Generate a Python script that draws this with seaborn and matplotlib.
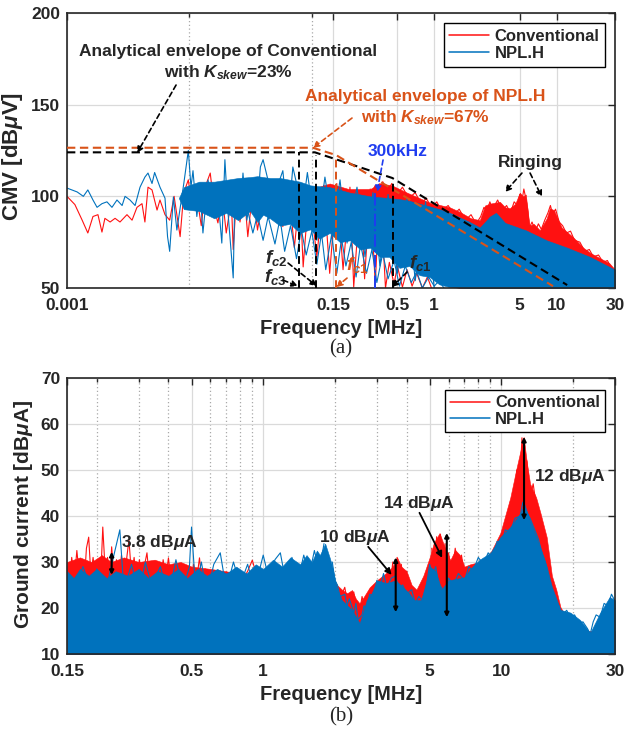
import pandas as pd
import seaborn as sns
import matplotlib.pyplot as plt
from matplotlib.lines import Line2D
from matplotlib.ticker import NullFormatter

# ---------------- (a) CMV spectrum ----------------
# (frequency MHz, dB uV) for the thin traces / spikes
cmv_conv_trace = [
    (0.001, 100), (0.00116, 95.5), (0.00133, 87), (0.00148, 80), (0.00163, 89),
    (0.00179, 90), (0.00193, 80.5), (0.00204, 88), (0.00225, 86), (0.00247, 88),
    (0.00271, 86), (0.00309, 90), (0.0034, 87), (0.00373, 94), (0.0041, 96),
    (0.00433, 86), (0.00459, 105), (0.00495, 103.5), (0.00544, 92.5), (0.00575, 98),
    (0.00632, 90), (0.0069, 87), (0.0075, 100), (0.0084, 78), (0.0090, 102),
    (0.0098, 109), (0.0105, 94), (0.0115, 100), (0.0125, 84), (0.0136, 106),
    (0.0148, 112.7), (0.0160, 93), (0.0171, 85.5), (0.0185, 101), (0.0200, 80),
    (0.0220, 98), (0.0228, 71), (0.0245, 105), (0.0259, 86), (0.0280, 103),
    (0.0300, 78), (0.0330, 104), (0.0360, 81.6), (0.040, 100), (0.045, 88),
    (0.050, 106), (0.058, 83.5), (0.065, 103), (0.072, 72), (0.080, 102),
    (0.085, 61.5), (0.095, 104), (0.110, 67), (0.125, 106), (0.140, 58),
    (0.160, 107), (0.18, 60), (0.205, 105), (0.22, 50.5), (0.25, 103),
    (0.27, 55), (0.30, 104), (0.33, 52), (0.36, 107), (0.40, 50),
    (0.43, 64), (0.47, 52), (0.5, 62), (0.55, 50.5), (0.6, 60), (0.66, 51),
    (0.72, 58), (0.8, 50), (0.88, 56), (0.95, 50),
]
cmv_conv_ringing = [
    (0.30, 100), (0.33, 106), (0.35, 101), (0.38, 108), (0.41, 102), (0.45, 107),
    (0.5, 101), (0.55, 105), (0.62, 99), (0.7, 102), (0.78, 96), (0.86, 99),
    (0.95, 94), (1.05, 97), (1.15, 92), (1.3, 95), (1.45, 90), (1.6, 93),
    (1.8, 87), (2.0, 90), (2.2, 85), (2.4, 89), (2.55, 94), (2.7, 92),
    (2.85, 97), (3.0, 93), (3.3, 98), (3.6, 92), (3.9, 95), (4.2, 91),
    (4.5, 97), (4.8, 95), (5.0, 101), (5.2, 97), (5.4, 104), (5.6, 99),
    (5.8, 93), (6.0, 83), (6.3, 86), (6.7, 81), (7.1, 85), (7.5, 82),
    (8.0, 87), (8.5, 91), (8.9, 95), (9.3, 90), (9.8, 93), (10.5, 86),
    (11.2, 84), (12, 80), (13, 81), (14, 76), (15.5, 75), (17, 70),
    (18.5, 71), (20, 67), (22, 68), (24, 64), (26, 65), (28, 61), (30, 59),
]
cmv_nplh_trace = [
    (0.001, 104.5), (0.00121, 102.4), (0.00136, 100), (0.00148, 103.5), (0.00163, 98),
    (0.00176, 94), (0.00193, 96), (0.00212, 97), (0.00233, 94), (0.00256, 98),
    (0.00282, 95), (0.00298, 100), (0.00327, 98), (0.0036, 95), (0.00395, 105),
    (0.00433, 110.5), (0.00459, 112.7), (0.00495, 107), (0.0052, 113), (0.00575, 105),
    (0.00632, 99), (0.00663, 78), (0.0069, 70), (0.0074, 99.6), (0.0079, 81.6),
    (0.0090, 107), (0.0098, 125), (0.0103, 105), (0.0107, 114), (0.0115, 89),
    (0.0122, 103.5), (0.0129, 80), (0.0142, 109), (0.0156, 89), (0.0171, 99.6),
    (0.0184, 74.5), (0.0195, 120), (0.0206, 92.5), (0.0228, 55.5), (0.0236, 105),
    (0.0259, 89), (0.0274, 112.7), (0.0295, 87), (0.0324, 107), (0.0356, 91),
    (0.038, 116), (0.040, 120), (0.048, 98), (0.058, 114), (0.064, 85),
    (0.070, 116), (0.084, 92.5), (0.092, 113), (0.110, 76), (0.128, 110.5),
    (0.149, 83), (0.170, 109), (0.194, 74.5), (0.234, 105), (0.272, 67),
    (0.316, 102), (0.36, 62), (0.42, 101), (0.5, 58), (0.6, 99),
    (0.7, 54), (0.85, 97), (1.0, 50),
]
cmv_nplh_low_spikes = [
    (0.03, 92), (0.033, 80), (0.036, 90), (0.04, 76), (0.044, 89), (0.05, 74),
    (0.055, 88), (0.06, 70), (0.067, 84), (0.075, 66), (0.082, 82), (0.09, 68),
    (0.1, 81), (0.11, 63), (0.12, 80), (0.13, 60), (0.145, 79), (0.16, 58),
    (0.175, 77), (0.19, 62), (0.21, 75), (0.23, 56), (0.25, 74), (0.28, 58),
    (0.31, 71), (0.34, 53), (0.38, 69), (0.42, 55), (0.47, 65), (0.52, 51),
    (0.58, 62), (0.65, 53), (0.72, 59), (0.8, 50), (0.9, 56), (1.0, 51),
    (1.1, 54), (1.2, 50),
]
# dense part of the spectra: (frequency MHz, lower dB, upper dB)
cmv_conv_band = [
    (0.03, 94, 101), (0.05, 92, 103), (0.0664, 86, 104), (0.1, 84, 104), (0.14, 82, 107),
    (0.2, 78, 104), (0.3, 74, 104), (0.36, 72, 107), (0.45, 69, 106), (0.6, 63, 102),
    (0.76, 60, 99), (0.92, 57, 96.5), (1.0, 55, 96), (1.34, 51, 94), (1.62, 50, 91.5),
    (2.0, 50, 88), (2.36, 50, 87), (2.6, 50, 95), (2.85, 50, 96), (3.44, 50, 97),
    (3.8, 50, 94), (4.15, 50, 93.5), (4.6, 50, 96), (5.0, 50, 102), (5.3, 50, 100),
    (5.6, 50, 101), (6.0, 50, 84), (6.5, 50, 85), (7.3, 50, 81.5), (8.3, 50, 88),
    (8.8, 50, 93.5), (9.5, 50, 92.5), (11.0, 50, 83), (13.5, 50, 78), (16.5, 50, 72),
    (19.0, 50, 69), (23.0, 50, 66), (27.0, 50, 63.5), (30.0, 50, 60),
]
cmv_nplh_band = [
    (0.0082, 99, 99), (0.009, 93, 105), (0.012, 92, 108), (0.016, 88, 108), (0.02, 91, 109),
    (0.025, 87, 110), (0.0313, 92, 110.5), (0.036, 86, 111), (0.04, 90, 110.5),
    (0.0456, 88, 110), (0.055, 84, 110), (0.0664, 85, 109), (0.08, 80, 108), (0.097, 82, 106),
    (0.115, 77, 105.5), (0.14, 80, 105), (0.17, 75, 103.5), (0.205, 76, 102), (0.25, 71, 101),
    (0.3, 72, 100), (0.36, 67, 99.5), (0.43, 67, 99), (0.52, 61, 98.5), (0.63, 62, 97.5),
    (0.76, 57, 96), (0.92, 56, 94.5), (1.1, 52, 93), (1.34, 50.5, 91), (1.95, 50, 86),
    (2.36, 50, 83), (2.6, 50, 86), (2.85, 50, 89), (3.2, 50, 91), (3.8, 50, 85.5),
    (5.6, 50, 81.5), (8.3, 50, 76), (12.2, 50, 72), (18.7, 50, 67), (28, 50, 61), (30, 50, 60),
]
# analytical envelopes (frequency MHz, dB uV)
env_conv = [(0.001, 124), (0.106, 124), (0.455, 110), (12.2, 51.6)]
env_nplh = [(0.001, 126.5), (0.102, 126.5), (0.158, 122.5), (9.35, 51)]
# corner-frequency markers (frequency MHz, top dB)
corner_conv = [(0.079, 124), (0.108, 122.5), (0.458, 109)]
corner_nplh = [(0.158, 121.4)]
marker_300k = [(0.33, 102)]

# ---------------- (b) ground current ----------------
gc_conv_band = [
    (0.15, 30), (0.17, 31), (0.19, 30), (0.21, 31.5), (0.23, 30), (0.26, 31), (0.3, 30),
    (0.35, 30.5), (0.4, 29.5), (0.45, 30), (0.5, 29), (0.6, 28.5), (0.8, 27.5), (1.0, 27),
    (1.5, 28), (1.95, 27), (2.04, 25), (2.14, 24), (2.25, 23.2), (2.36, 23.9),
    (2.45, 22), (2.54, 21), (2.65, 22.5), (2.8, 24.5), (3.0, 26), (3.28, 27.6), (3.5, 29),
    (3.65, 31), (3.8, 29), (4.0, 28), (4.2, 25), (4.4, 24), (4.7, 27), (5.0, 31),
    (5.2, 34.1), (5.5, 36.3), (5.8, 33), (6.1, 30.4), (6.4, 32.6), (6.7, 31.5), (7.0, 29),
    (7.4, 29.5), (8.1, 30), (9.0, 32), (9.9, 36.3), (10.9, 44), (11.6, 50.6), (12.4, 57.2),
    (12.8, 51.5), (13.2, 47), (14.0, 44), (14.6, 40.6), (15.5, 35.4), (16.3, 27), (17.0, 24),
    (17.7, 20.2), (19.0, 17.4), (20.0, 16), (21.4, 15), (30.0, 15),
]
gc_nplh_band = [
    (0.15, 28), (0.16, 26.5), (0.17, 28.5), (0.185, 27), (0.2, 28.5), (0.22, 26.5),
    (0.24, 28), (0.27, 27), (0.3, 28.5), (0.33, 26.5), (0.36, 28), (0.4, 27), (0.44, 28.5),
    (0.48, 26.5), (0.53, 28.5), (0.58, 27), (0.64, 28.5), (0.7, 27.5), (0.77, 29),
    (0.85, 27.5), (0.93, 29.5), (1.0, 28.5), (1.1, 30.5), (1.2, 29), (1.3, 31), (1.43, 29.5),
    (1.52, 31.5), (1.6, 30), (1.68, 32.5), (1.73, 31.5), (1.82, 34), (1.9, 31), (1.95, 29),
    (2.04, 24.3), (2.14, 21.7), (2.36, 19.6), (2.54, 16.7), (2.72, 21.7), (2.85, 23.2),
    (3.02, 26), (3.28, 25.4), (3.6, 26), (4.1, 23.2), (4.3, 21.7), (4.6, 21.7), (4.9, 26.7),
    (5.0, 29), (5.3, 28), (5.6, 24), (6.0, 26), (7.0, 26.7), (7.4, 28.5), (8.1, 30.5),
    (9.0, 32), (9.9, 35.4), (10.9, 37.6), (12.0, 40.6), (12.5, 42.5), (13.2, 39),
    (14.6, 33), (15.5, 29), (16.3, 24.6), (17.7, 19.6), (19.5, 19), (21.4, 17.4),
    (23.6, 14.6), (26.0, 19), (28.5, 22.4), (30.0, 21.7),
]
gc_conv_spikes_low = [
    (0.15, 29), (0.153, 25), (0.157, 31), (0.161, 26), (0.165, 32.5), (0.169, 27),
    (0.173, 30), (0.177, 25), (0.181, 33), (0.185, 35.4), (0.189, 27), (0.193, 31),
    (0.198, 26), (0.203, 30.5), (0.208, 27), (0.212, 37.6), (0.217, 28), (0.222, 31),
    (0.227, 26), (0.231, 33.3), (0.236, 27), (0.242, 30.5), (0.248, 26), (0.254, 31.5),
    (0.26, 27), (0.266, 30), (0.273, 34.8), (0.28, 27), (0.287, 31), (0.294, 26),
    (0.302, 30.5), (0.31, 27), (0.318, 29.5), (0.325, 32), (0.333, 26), (0.342, 30),
    (0.351, 27), (0.36, 29.5), (0.37, 25), (0.38, 30.5), (0.39, 26.5), (0.4, 30.9),
    (0.41, 26), (0.42, 29.5), (0.435, 25.5), (0.45, 29), (0.465, 26), (0.48, 28.5),
    (0.495, 25), (0.51, 29.5), (0.525, 26), (0.54, 30.9), (0.555, 25), (0.57, 28.5),
    (0.59, 25.5), (0.62, 28), (0.65, 25), (0.68, 27.5), (0.72, 24.5), (0.75, 27),
    (0.8, 25), (0.86, 28), (0.9, 30.4), (0.95, 26),
]
gc_conv_spikes_dip = [
    (2.0, 25), (2.1, 22), (2.2, 24.5), (2.3, 19), (2.4, 23.5), (2.5, 17), (2.6, 22.5),
    (2.7, 19), (2.8, 24),
]
gc_conv_spikes_10 = [
    (3.3, 27), (3.4, 24), (3.5, 30), (3.55, 22), (3.65, 31), (3.7, 21), (3.8, 29.5),
    (3.9, 24), (4.0, 28),
]
gc_conv_spikes_14 = [
    (5.1, 33), (5.2, 27), (5.35, 35.5), (5.45, 26), (5.55, 36), (5.65, 25), (5.8, 34),
    (5.9, 19.5), (6.0, 32), (6.2, 27), (6.4, 33), (6.6, 28), (6.8, 31.5), (7.0, 27),
]
gc_conv_spikes_12 = [
    (10.9, 43), (11.2, 39), (11.6, 50), (11.9, 44), (12.2, 57), (12.5, 47),
    (12.8, 52), (13.2, 44), (13.6, 47), (14.2, 40),
]
gc_nplh_spikes = [
    (0.15, 27), (0.16, 23), (0.175, 29), (0.19, 24), (0.2, 28.5), (0.215, 22),
    (0.23, 29), (0.25, 37), (0.26, 24), (0.28, 29.5), (0.3, 23), (0.32, 30),
    (0.34, 25), (0.37, 29), (0.4, 22.5), (0.43, 30.5), (0.46, 24), (0.49, 29),
    (0.5, 37.6), (0.52, 24), (0.55, 30), (0.58, 23), (0.62, 29.5), (0.66, 32),
    (0.7, 24), (0.75, 30), (0.8, 25), (0.86, 29.5), (0.92, 24), (1.0, 31.5),
    (1.06, 26), (1.12, 30.5), (1.18, 32), (1.25, 25), (1.32, 31), (1.4, 26),
    (1.48, 31.5), (1.56, 27), (1.64, 32.5), (1.72, 28), (1.8, 34),
]
gc_nplh_edge = [
    (1.95, 30), (2.0, 26), (2.05, 25), (2.1, 22.5), (2.2, 23), (2.25, 20.5), (2.3, 22),
    (2.4, 19), (2.45, 21), (2.5, 17.5), (2.6, 18.5), (2.65, 20.5), (2.7, 19.5), (2.8, 23),
    (2.9, 22.5), (3.0, 26), (3.1, 24.5), (3.2, 27.5), (3.3, 24.5), (3.45, 26.5), (3.6, 27),
    (3.7, 24), (3.85, 25), (4.0, 23), (4.2, 24), (4.35, 21), (4.5, 22.5), (4.7, 21.5),
    (4.85, 25), (5.0, 29.5), (5.15, 27), (5.3, 29), (5.45, 25), (5.6, 24.5), (5.8, 23),
    (6.0, 26.5), (6.3, 25), (6.6, 27.5), (7.0, 26), (7.3, 29), (7.6, 28), (8.0, 31),
    (8.4, 29.5), (8.8, 32), (9.2, 31), (9.6, 34.5), (10.0, 34), (10.4, 37), (10.9, 36.5),
    (11.4, 39.5), (12.0, 40), (12.3, 43), (12.7, 41), (13.2, 39.5), (13.8, 37), (14.3, 35),
    (14.8, 32), (15.3, 30), (15.8, 26.5), (16.3, 24), (16.8, 21), (17.4, 20.5), (18.0, 18.5),
    (18.8, 19.5), (19.5, 18), (20.3, 18.5), (21.2, 16.5), (22.0, 17), (23.0, 15.5),
    (23.6, 14.3), (24.3, 17), (25.0, 18.5), (26.0, 18), (27.0, 21), (28.0, 20.5),
    (29.0, 23), (30.0, 21.5),
]
# level differences marked with double arrows
gap_labels = ["3.8", "10", "14", "12"]
gap_f = [0.231, 3.6, 5.9, 12.45]
gap_top = [32.2, 31, 36.3, 57.2]
gap_bottom = [27.2, 19.1, 18, 39.1]

RED = "#FF1111"
BLUE = "#0072BD"
ORANGE = "#D95319"
BLUE_TXT = "#1F3CF0"
AX_COL = "#262626"
DASH = (0, (4, 2.2))

sns.set_style("white")
plt.rcParams["font.family"] = ["Liberation Sans", "DejaVu Sans"]
plt.rcParams["font.weight"] = "bold"
plt.rcParams["mathtext.fontset"] = "custom"
plt.rcParams["mathtext.rm"] = "Liberation Sans:bold"
plt.rcParams["mathtext.it"] = "Liberation Sans:italic:bold"
plt.rcParams["mathtext.bf"] = "Liberation Sans:bold"


def trace(ax, pairs, color, z, lw=0.8, ls="-"):
    df = pd.DataFrame(pairs, columns=["f", "db"])
    sns.lineplot(data=df, x="f", y="db", ax=ax, color=color, lw=lw, linestyle=ls,
                 estimator=None, sort=False, zorder=z, legend=False)


def band(ax, rows, color, z):
    df = pd.DataFrame(rows, columns=["f", "lo", "hi"])
    ax.fill_between(df["f"], df["lo"], df["hi"], color=color, lw=0.4, zorder=z)


def style(ax, xlim, ylim, xmajor, xlabels, xminor, yticks):
    ax.set_xlim(*xlim)
    ax.set_ylim(*ylim)
    ax.set_xticks(xmajor, labels=xlabels)
    ax.set_xticks(xminor, minor=True)
    ax.xaxis.set_minor_formatter(NullFormatter())
    ax.set_yticks(yticks)
    ax.set_xlabel("")
    ax.set_ylabel("")
    ax.tick_params(which="both", direction="in", top=True, right=True,
                   labelsize=12.5, color=AX_COL, width=1.0)
    ax.tick_params(axis="x", pad=7)
    ax.tick_params(axis="y", pad=5)
    ax.tick_params(which="major", length=5)
    ax.tick_params(which="minor", length=3)
    ax.grid(True, which="major", color="#dadada", lw=0.9, ls="-")
    ax.grid(True, which="minor", axis="x", color="#a9a9a9", lw=0.9, ls=(0, (1, 2)))
    ax.set_axisbelow(True)
    for s in ax.spines.values():
        s.set_linewidth(1.2)
        s.set_color(AX_COL)
    handles = [Line2D([0], [0], color=RED, lw=1.1), Line2D([0], [0], color=BLUE, lw=1.1)]
    return handles


W, H = 625, 732
fig = plt.figure(figsize=(W / 100, H / 100), dpi=100)


def px_axes(l, t, r, b):
    return [l / W, 1 - b / H, (r - l) / W, (b - t) / H]


ax1 = fig.add_axes(px_axes(67, 13, 615, 288))
ax2 = fig.add_axes(px_axes(67, 378, 615, 654))
ax1.set_xscale("log")
ax2.set_xscale("log")

# ---------- panel (a) ----------
band(ax1, cmv_conv_band, RED, 2.0)
trace(ax1, cmv_conv_trace, RED, 2.1)
trace(ax1, cmv_conv_ringing, RED, 2.1)
band(ax1, cmv_nplh_band, BLUE, 2.2)
trace(ax1, cmv_nplh_trace, BLUE, 2.3)
trace(ax1, cmv_nplh_low_spikes, BLUE, 2.3)
trace(ax1, env_conv, "black", 3, lw=1.5, ls=DASH)
trace(ax1, env_nplh, ORANGE, 3, lw=1.5, ls=DASH)
for f, top in corner_conv:
    ax1.vlines(f, 50, top, color="black", lw=1.4, linestyles=[DASH], zorder=3)
for f, top in corner_nplh:
    ax1.vlines(f, 50, top, color=ORANGE, lw=1.4, linestyles=[DASH], zorder=3)
for f, top in marker_300k:
    ax1.vlines(f, 50, top, color=BLUE_TXT, lw=1.4, linestyles="-.", zorder=3)

h = style(ax1, (0.001, 30), (50, 200), [0.001, 0.15, 0.5, 1, 5, 10, 30],
          ["0.001", "0.15", "0.5", "1", "5", "10", "30"], [0.01, 0.1], [50, 100, 150, 200])
leg = ax1.legend(h, ["Conventional", "NPL.H"], loc="upper right", bbox_to_anchor=(0.982, 0.964),
                 borderaxespad=0, fancybox=False, edgecolor="black", framealpha=1, fontsize=12,
                 handlelength=2.4, handletextpad=0.3, borderpad=0.35, labelspacing=0.15)
leg.get_frame().set_linewidth(1.0)

ax1.text(0.0207, 172.7, "Analytical envelope of Conventional\nwith $K_{skew}$=23%",
         ha="center", va="center", fontsize=12.5, linespacing=1.3, zorder=5)
ax1.text(0.84, 148.4, "Analytical envelope of NPL.H\nwith $K_{skew}$=67%", color=ORANGE,
         ha="center", va="center", fontsize=12.5, linespacing=1.3, zorder=5)
ax1.text(0.506, 124.2, "300kHz", color=BLUE_TXT, ha="center", va="center", fontsize=12.5, zorder=5)
ax1.text(6.07, 118.2, "Ringing", ha="center", va="center", fontsize=12.5, zorder=5)
ax1.text(0.051, 66.3, "$f_{c2}$", ha="center", va="center", fontsize=13.5, zorder=5)
ax1.text(0.0502, 56, "$f_{c3}$", ha="center", va="center", fontsize=13.5, zorder=5)
ax1.text(0.234, 62.5, "$f_{c1}$", color=ORANGE, ha="center", va="center", fontsize=13.5, zorder=5)
ax1.text(0.766, 63.6, "$f_{c1}$", ha="center", va="center", fontsize=13.5, zorder=5)


def arrow(ax, start, end, color="black", ls=(0, (3, 2)), lw=1.2, style="-|>", ms=9):
    ax.annotate("", xy=end, xytext=start, zorder=6,
                arrowprops=dict(arrowstyle=style, color=color, ls=ls, lw=lw,
                                mutation_scale=ms, shrinkA=0, shrinkB=0))


arrow(ax1, (0.00778, 160.7), (0.00373, 123.6))
arrow(ax1, (0.213, 142.7), (0.102, 126.4), color=ORANGE)
arrow(ax1, (0.382, 119.8), (0.341, 102.3), color=BLUE_TXT)
arrow(ax1, (5.21, 112.7), (3.78, 102.3))
arrow(ax1, (6.07, 112.7), (7.6, 99.6))
arrow(ax1, (0.064, 63.6), (0.110, 51))
arrow(ax1, (0.0582, 54.3), (0.077, 51))
arrow(ax1, (0.194, 55.4), (0.158, 50.5), color=ORANGE)
arrow(ax1, (0.60, 58.7), (0.452, 50.5))

# ---------- panel (b) ----------
df = pd.DataFrame(gc_conv_band, columns=["f", "hi"])
ax2.fill_between(df["f"], 10, df["hi"], color=RED, lw=0.4, zorder=2.0)
for sp in [gc_conv_spikes_low, gc_conv_spikes_dip, gc_conv_spikes_10,
           gc_conv_spikes_14, gc_conv_spikes_12]:
    trace(ax2, sp, RED, 2.1)
df = pd.DataFrame(gc_nplh_band, columns=["f", "hi"])
ax2.fill_between(df["f"], 10, df["hi"], color=BLUE, lw=0.4, zorder=2.2)
trace(ax2, gc_nplh_spikes, BLUE, 2.3)
trace(ax2, gc_nplh_edge, BLUE, 2.3)

h = style(ax2, (0.15, 30), (10, 70), [0.15, 0.5, 1, 5, 10, 30],
          ["0.15", "0.5", "1", "5", "10", "30"],
          [0.2, 0.3, 0.4, 0.6, 0.7, 0.8, 0.9, 2, 3, 4, 6, 7, 8, 9, 20],
          [10, 20, 30, 40, 50, 60, 70])
leg = ax2.legend(h, ["Conventional", "NPL.H"], loc="upper right", bbox_to_anchor=(0.982, 0.955),
                 borderaxespad=0, fancybox=False, edgecolor="black", framealpha=1, fontsize=12,
                 handlelength=2.4, handletextpad=0.3, borderpad=0.3, labelspacing=0.1)
leg.get_frame().set_linewidth(1.0)

for f, top, bot in zip(gap_f, gap_top, gap_bottom):
    arrow(ax2, (f, bot), (f, top), ls="-", lw=1.5, style="<|-|>", ms=6)

ax2.text(0.252, 34.3, gap_labels[0] + " dB$\\mu$A", ha="left", va="center", fontsize=12.5, zorder=5)
ax2.text(2.43, 35.4, gap_labels[1] + " dB$\\mu$A", ha="center", va="center", fontsize=12.5, zorder=5)
ax2.text(4.5, 42.8, gap_labels[2] + " dB$\\mu$A", ha="center", va="center", fontsize=12.5, zorder=5)
ax2.text(19.4, 48.5, gap_labels[3] + " dB$\\mu$A", ha="center", va="center", fontsize=12.5, zorder=5)
arrow(ax2, (2.76, 33.3), (3.46, 27.2), ls="-", lw=1.3)
arrow(ax2, (4.53, 40.7), (5.64, 30.9), ls="-", lw=1.3)

# ---------- figure labels ----------
fig.text(13 / W, 1 - 156 / H, "CMV [dB$\\mu$V]", rotation=90, ha="center", va="center", fontsize=16)
fig.text(24 / W, 1 - 514 / H, "Ground current [dB$\\mu$A]", rotation=90, ha="center", va="center",
         fontsize=15)
fig.text(341 / W, 1 - 329 / H, "Frequency [MHz]", ha="center", va="center", fontsize=14.5)
fig.text(341 / W, 1 - 695 / H, "Frequency [MHz]", ha="center", va="center", fontsize=14.5)
fig.text(341 / W, 1 - 349 / H, "(a)", ha="center", va="center", fontsize=15,
         family="Liberation Serif", weight="normal")
fig.text(341 / W, 1 - 717 / H, "(b)", ha="center", va="center", fontsize=15,
         family="Liberation Serif", weight="normal")

fig.savefig("out.png", dpi=100)
